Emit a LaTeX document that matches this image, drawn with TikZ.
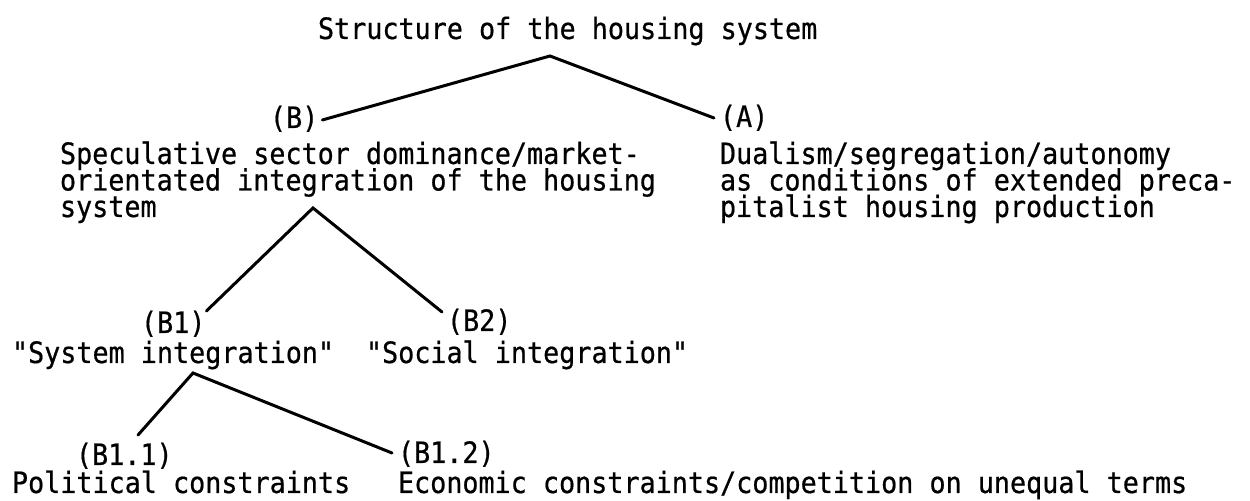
\documentclass[tikz,border=0pt]{standalone}
\usepackage{fontspec}
\newfontfamily\tw[FakeStretch=0.91,FakeBold=0.6]{DejaVu Sans Mono}
\begin{document}
\begin{tikzpicture}[x=0.5pt,y=-0.5pt,
  txt/.style={anchor=base west, inner sep=0pt, outer sep=0pt,
              font=\tw\fontsize{14.7}{13}\selectfont},
  link/.style={line width=1.5pt, line cap=round, line join=miter}]
\useasboundingbox (0,0) rectangle (1250,501);

% top level
\node[txt] (title) at (318,39) {Structure of the housing system};
\node[txt] (lblB) at (270,128) {(B)};
\node[txt] (lblA) at (720,127) {(A)};

% branch B text
\node[txt] (specA) at (60,164)   {Speculative sector dominance/market-};
\node[txt] (specB) at (60,190.5) {orientated integration of the housing};
\node[txt] (specC) at (60,217)   {system};

% branch A text
\node[txt] (dualA) at (720,164)   {Dualism/segregation/autonomy};
\node[txt] (dualB) at (720,190.5) {as conditions of extended preca-};
\node[txt] (dualC) at (720,217)   {pitalist housing production};

% second level
\node[txt] (lblBa) at (141,333) {(B1)};
\node[txt] (lblBb) at (447,331) {(B2)};
\node[txt] (sysint) at (12,363) {"System integration"};
\node[txt] (socint) at (366,363) {"Social integration"};

% third level
\node[txt] (lblBaa) at (76,465) {(B1.1)};
\node[txt] (lblBab) at (398,463) {(B1.2)};
\node[txt] (polc) at (12,493) {Political constraints};
\node[txt] (ecoc) at (398,493) {Economic constraints/competition on unequal terms};

% branching points
\coordinate (top1) at (550,56);
\coordinate (top2) at (313,208);
\coordinate (top3) at (193,373);

\draw[link] ([shift={(4,-8)}]lblB.base east) -- (top1) -- ([shift={(-6,-9)}]lblA.base west);
\draw[link] ([shift={(1,-22)}]lblBa.base east) -- (top2) -- ([shift={(-5,-19)}]lblBb.base west);
\draw[link] ([shift={(62,-30)}]lblBaa.base west) -- (top3) -- ([shift={(-6,-10)}]lblBab.base west);
\end{tikzpicture}
\end{document}
